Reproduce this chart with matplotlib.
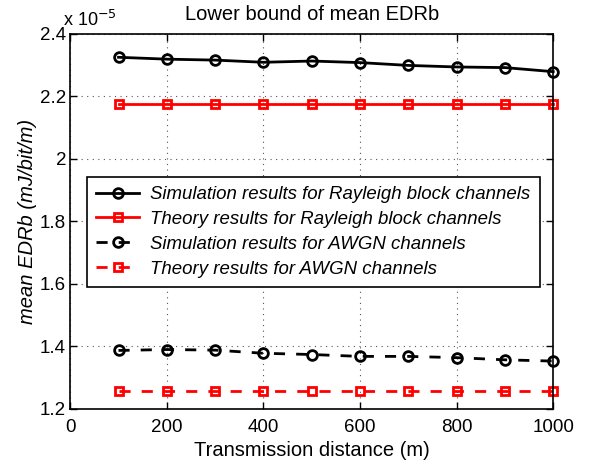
import numpy as np
import matplotlib
matplotlib.use('Agg')
import matplotlib.pyplot as plt

plt.rcParams['font.family'] = ['Liberation Sans', 'DejaVu Sans']

distance = [100, 200, 300, 400, 500, 600, 700, 800, 900, 1000]
sim_rayleigh = [2.325, 2.319, 2.316, 2.309, 2.313, 2.308, 2.299, 2.294, 2.292, 2.279]
theory_rayleigh = [2.174] * 10
sim_awgn = [1.387, 1.390, 1.388, 1.378, 1.374, 1.368, 1.368, 1.364, 1.357, 1.353]
theory_awgn = [1.257] * 10

yticks = [1.2, 1.4, 1.6, 1.8, 2.0, 2.2, 2.4]
ytick_labels = ['1.2', '1.4', '1.6', '1.8', '2', '2.2', '2.4']
xticks = [0, 200, 400, 600, 800, 1000]

fig = plt.figure(figsize=(6, 4.7), dpi=100)
ax = fig.add_axes([0.117, 0.130, 0.805, 0.798])

ax.plot(distance, sim_rayleigh, 'k-o', lw=2, ms=7, mew=2, mfc='none',
        clip_on=False, label='Simulation results for Rayleigh block channels')
ax.plot(distance, theory_rayleigh, 'r-s', lw=2, ms=6, mew=2, mfc='none',
        clip_on=False, label='Theory results for Rayleigh block channels')
ax.plot(distance, sim_awgn, 'k--o', lw=2, ms=7, mew=2, mfc='none', dashes=(4, 4),
        clip_on=False, label='Simulation results for AWGN channels')
ax.plot(distance, theory_awgn, 'r--s', lw=2, ms=6, mew=2, mfc='none', dashes=(4, 4),
        clip_on=False, label='Theory results for AWGN channels')

ax.set_xlim(0, 1000)
ax.set_ylim(1.2, 2.4)
ax.set_xticks(xticks)
ax.set_yticks(yticks)
ax.set_yticklabels(ytick_labels)
ax.tick_params(direction='in', top=True, right=True, labelsize=13.5, length=5, width=1)
ax.tick_params(axis='x', pad=7)
ax.tick_params(axis='y', pad=3)
ax.grid(True, linestyle=(0, (1, 4)), color='#555555', linewidth=0.8)
for s in ax.spines.values():
    s.set_linewidth(1.2)

ax.set_title('Lower bound of mean EDRb', fontsize=14.5, pad=10)
ax.set_xlabel('Transmission distance (m)', fontsize=14.5, labelpad=4)
ax.set_ylabel('mean EDRb (mJ/bit/m)', fontsize=14.5, style='italic', labelpad=2)
ax.text(-0.015, 1.01, r'x 10$^{-5}$', transform=ax.transAxes, fontsize=13,
        ha='left', va='bottom')

leg = ax.legend(loc='lower left', bbox_to_anchor=(0.035, 0.325), borderaxespad=0,
                prop={'style': 'italic', 'size': 13.4}, fancybox=False,
                edgecolor='black', framealpha=1, handlelength=2.3,
                handletextpad=0.6, borderpad=0.5, labelspacing=0.42)
leg.get_frame().set_linewidth(1.2)

fig.savefig('out.png', dpi=100)
